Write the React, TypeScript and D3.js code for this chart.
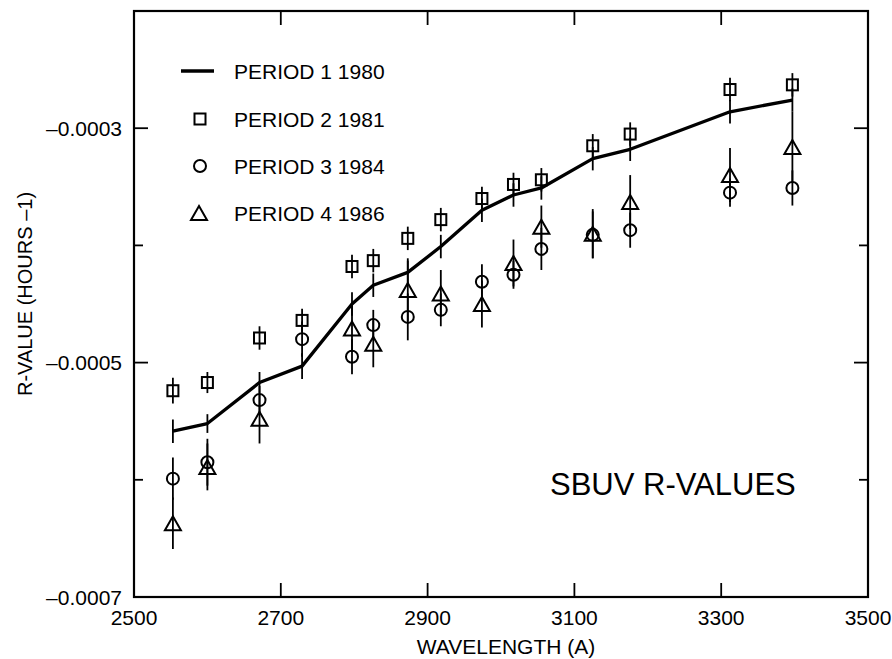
import React from "react";
import * as d3 from "d3";

// Wavelengths (Å)
const wavelengths = [2553, 2600, 2671, 2729, 2797, 2826, 2873, 2918, 2974, 3017, 3055, 3125, 3176, 3312, 3397];
// Period 1 1980 (line), R-value (hours^-1)
const period1 = [-0.0005585, -0.000552, -0.000517, -0.000503, -0.00045, -0.000434, -0.000423, -0.000401, -0.00037, -0.000357, -0.000351, -0.000326, -0.000318, -0.000286, -0.000276];
const period1Err = [0.00001, 0.000008, 0.000009, 0.000011, 0.00001, 0.00001, 0.00001, 0.00001, 0.00001, 0.00001, 0.00001, 0.00001, 0.00001, 0.00001, 0.00001];
// Period 2 1981 (squares)
const period2 = [-0.000524, -0.000517, -0.000479, -0.000464, -0.000418, -0.000413, -0.000394, -0.000378, -0.00036, -0.000348, -0.000344, -0.000315, -0.000305, -0.000267, -0.000263];
const period2Err = [0.000011, 0.000009, 0.00001, 0.00001, 0.00001, 0.00001, 0.00001, 0.00001, 0.00001, 0.00001, 0.00001, 0.00001, 0.00001, 0.00001, 0.00001];
// Period 3 1984 (circles)
const period3 = [-0.000599, -0.000585, -0.000532, -0.00048, -0.000495, -0.000468, -0.000461, -0.000455, -0.000431, -0.000425, -0.000403, -0.000391, -0.000387, -0.000355, -0.000351];
const period3Err = [0.000018, 0.00002, 0.000012, 0.000015, 0.000015, 0.000013, 0.00002, 0.000014, 0.000015, 0.000012, 0.000018, 0.00002, 0.000015, 0.000012, 0.000015];
// Period 4 1986 (triangles); no value at 2729
const period4: (number | null)[] = [-0.000637, -0.000589, -0.000548, null, -0.000471, -0.000484, -0.000438, -0.000441, -0.00045, -0.000415, -0.000384, -0.00039, -0.000363, -0.00034, -0.000316];
const period4Err = [0.000022, 0.00002, 0.000021, 0, 0.00002, 0.00002, 0.000027, 0.00002, 0.00002, 0.00002, 0.000018, 0.000021, 0.000023, 0.000023, 0.00003];

const xTicks = [2500, 2700, 2900, 3100, 3300, 3500];
const yMajorTicks = [-0.0003, -0.0005, -0.0007];
const yMinorTicks = [-0.0004, -0.0006];
const legendLabels = ["PERIOD 1 1980", "PERIOD 2 1981", "PERIOD 3 1984", "PERIOD 4 1986"];

const FONT = "'Liberation Sans', Arial, Helvetica, sans-serif";

export default function App() {
  const left = 134, right = 868, top = 11, bottom = 597;
  const x = d3.scaleLinear().domain([2500, 3500]).range([left, right]);
  const y = d3.scaleLinear().domain([-0.0007, -0.0002]).range([bottom, top]);
  const line = d3.line<number>().x((_, i) => x(wavelengths[i])).y((d) => y(d));

  const triPath = (cx: number, cy: number) => {
    const w = 8, h = 7;
    return `M${cx - w},${cy + h}L${cx + w},${cy + h}L${cx},${cy - h}Z`;
  };

  const errBar = (key: string, i: number, v: number, e: number) => (
    <line key={key} x1={x(wavelengths[i])} x2={x(wavelengths[i])} y1={y(v - e)} y2={y(v + e)} stroke="#000" strokeWidth={1.8} />
  );

  const legendY = [71, 119, 166, 213];

  return (
    <svg width={892} height={659} style={{ position: "absolute", left: 0, top: 0, background: "#fff" }} fontFamily={FONT}>
      <rect x={0} y={0} width={892} height={659} fill="#fff" />
      {/* frame */}
      <rect x={left} y={top} width={right - left} height={bottom - top} fill="none" stroke="#000" strokeWidth={2.2} />
      {/* x ticks */}
      {xTicks.slice(1, -1).map((t) => (
        <g key={"xt" + t}>
          <line x1={x(t)} x2={x(t)} y1={bottom} y2={bottom - 14} stroke="#000" strokeWidth={1.8} />
          <line x1={x(t)} x2={x(t)} y1={top} y2={top + 14} stroke="#000" strokeWidth={1.8} />
        </g>
      ))}
      {xTicks.map((t) => (
        <text key={"xl" + t} x={x(t)} y={625} textAnchor="middle" fontSize={21} fill="#000">{t}</text>
      ))}
      {/* y ticks */}
      {yMajorTicks.slice(0, 2).map((t) => (
        <g key={"ym" + t}>
          <line x1={left} x2={left + 14} y1={y(t)} y2={y(t)} stroke="#000" strokeWidth={1.8} />
          <line x1={right} x2={right - 14} y1={y(t)} y2={y(t)} stroke="#000" strokeWidth={1.8} />
        </g>
      ))}
      {yMinorTicks.map((t) => (
        <g key={"yn" + t}>
          <line x1={left} x2={left + 9} y1={y(t)} y2={y(t)} stroke="#000" strokeWidth={1.8} />
          <line x1={right} x2={right - 9} y1={y(t)} y2={y(t)} stroke="#000" strokeWidth={1.8} />
        </g>
      ))}
      {yMajorTicks.map((t) => (
        <text key={"yl" + t} x={122} y={y(t)} dy="0.36em" textAnchor="end" fontSize={21} fill="#000">
          {"\u2013" + d3.format(".4f")(Math.abs(t))}
        </text>
      ))}
      {/* axis titles */}
      <text x={506} y={654} textAnchor="middle" fontSize={21} fill="#000">WAVELENGTH (A)</text>
      <text transform="translate(32,294) rotate(-90)" textAnchor="middle" fontSize={20} fill="#000">R-VALUE (HOURS {"\u2013"}1)</text>

      {/* error bars */}
      {period1.map((v, i) => errBar("e1" + i, i, v, period1Err[i]))}
      {period2.map((v, i) => errBar("e2" + i, i, v, period2Err[i]))}
      {period3.map((v, i) => errBar("e3" + i, i, v, period3Err[i]))}
      {period4.map((v, i) => (v == null ? null : errBar("e4" + i, i, v, period4Err[i])))}
      {/* period 1 line */}
      <path d={line(period1) || ""} fill="none" stroke="#000" strokeWidth={3.3} strokeLinejoin="round" />
      {/* squares */}
      {period2.map((v, i) => (
        <rect key={"s" + i} x={x(wavelengths[i]) - 5.5} y={y(v) - 5.5} width={11} height={11} fill="none" stroke="#000" strokeWidth={2} />
      ))}
      {/* circles */}
      {period3.map((v, i) => (
        <circle key={"c" + i} cx={x(wavelengths[i])} cy={y(v)} r={6} fill="none" stroke="#000" strokeWidth={2} />
      ))}
      {/* triangles */}
      {period4.map((v, i) =>
        v == null ? null : (
          <path key={"t" + i} d={triPath(x(wavelengths[i]), y(v))} fill="none" stroke="#000" strokeWidth={2} strokeLinejoin="miter" />
        )
      )}

      {/* legend */}
      <line x1={181} x2={214} y1={legendY[0]} y2={legendY[0]} stroke="#000" strokeWidth={3.3} />
      <rect x={194.5} y={legendY[1] - 5.5} width={11} height={11} fill="none" stroke="#000" strokeWidth={2} />
      <circle cx={200} cy={legendY[2]} r={6} fill="none" stroke="#000" strokeWidth={2} />
      <path d={triPath(199, legendY[3])} fill="none" stroke="#000" strokeWidth={2} />
      {legendLabels.map((l, i) => (
        <text key={l} x={234} y={legendY[i]} dy="0.36em" fontSize={21} fill="#000">{l}</text>
      ))}

      <text x={550} y={495} fontSize={31} fill="#000">SBUV R-VALUES</text>
    </svg>
  );
}
